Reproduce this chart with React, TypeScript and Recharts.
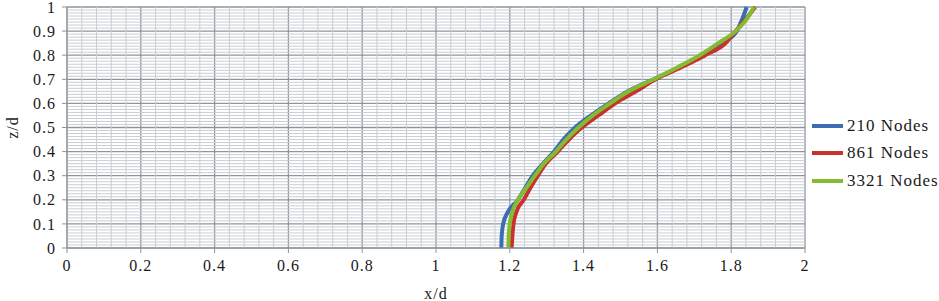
import { LineChart, Line, XAxis, YAxis, CartesianGrid, ReferenceLine } from 'recharts'

// z/d levels shared by the three profiles
const zLevels = [0, 0.05, 0.1, 0.15, 0.2, 0.25, 0.3, 0.35, 0.4, 0.45, 0.5, 0.55, 0.6, 0.65, 0.7, 0.75, 0.8, 0.85, 0.9, 0.95, 1.0]

// x/d at the levels above
const nodes210 = [1.177, 1.178, 1.182, 1.195, 1.222, 1.242, 1.262, 1.29, 1.32, 1.345, 1.377, 1.42, 1.468, 1.52, 1.59, 1.66, 1.725, 1.775, 1.815, 1.83, 1.842]
const nodes861 = [1.205, 1.207, 1.21, 1.218, 1.238, 1.256, 1.276, 1.298, 1.33, 1.36, 1.395, 1.44, 1.486, 1.542, 1.595, 1.665, 1.73, 1.785, 1.812, 1.84, 1.865]
const nodes3321 = [1.196, 1.197, 1.2, 1.207, 1.222, 1.245, 1.268, 1.292, 1.325, 1.353, 1.386, 1.425, 1.472, 1.522, 1.59, 1.655, 1.715, 1.765, 1.812, 1.842, 1.862]

const xTicks = [0, 0.2, 0.4, 0.6, 0.8, 1, 1.2, 1.4, 1.6, 1.8, 2]
const yTicks = [0, 0.1, 0.2, 0.3, 0.4, 0.5, 0.6, 0.7, 0.8, 0.9, 1]

// minor gridlines (skip the ones that sit on a major line)
const xMinor = Array.from({ length: 51 }, (_, i) => i).filter((i) => i % 5 !== 0).map((i) => +(i * 0.04).toFixed(3))
const yMinor = Array.from({ length: 81 }, (_, i) => i).filter((i) => i % 8 !== 0).map((i) => +(i * 0.0125).toFixed(4))

const series = [
  { name: '210 Nodes', values: nodes210, color: '#3c6db3' },
  { name: '861 Nodes', values: nodes861, color: '#c8322e' },
  { name: '3321 Nodes', values: nodes3321, color: '#84bb31' },
]

const FONT = 'Liberation Serif, Times New Roman, Times, DejaVu Serif, serif'
const tickStyle = { fill: '#1a1a1a', fontSize: 16, fontFamily: FONT, letterSpacing: 1 }

export default function App() {
  return (
    <div style={{ position: 'absolute', left: 0, top: 0, width: 939, height: 301, background: '#fff', fontFamily: FONT }}>
      <LineChart width={939} height={301} margin={{ top: 7, right: 134, left: 0, bottom: 0 }} style={{ fontFamily: FONT }}>
        <XAxis
          dataKey="x"
          type="number"
          domain={[0, 2]}
          ticks={xTicks}
          interval={0}
          height={53}
          tick={tickStyle}
          tickSize={5}
          tickMargin={7}
          axisLine={{ stroke: '#8d949e' }}
          tickLine={{ stroke: '#8d949e' }}
          label={{ value: 'x/d', position: 'insideBottom', offset: 2, style: { ...tickStyle } }}
        />
        <YAxis
          type="number"
          domain={[0, 1]}
          ticks={yTicks}
          interval={0}
          width={67}
          tick={tickStyle}
          tickSize={5}
          tickMargin={6}
          axisLine={{ stroke: '#8d949e' }}
          tickLine={{ stroke: '#8d949e' }}
          label={{ value: 'z/d', angle: -90, position: 'insideLeft', offset: 12, style: { ...tickStyle, textAnchor: 'middle' } }}
        />

        {xMinor.map((v) => (
          <ReferenceLine key={'vx' + v} x={v} stroke="#c9cdd4" strokeWidth={1} />
        ))}
        {yMinor.map((v) => (
          <ReferenceLine key={'hy' + v} y={v} stroke="#c9cdd4" strokeWidth={1} />
        ))}
        <CartesianGrid stroke="#8d949e" strokeWidth={1.3} />

        {series.map((s) => (
          <Line
            key={s.name}
            name={s.name}
            data={zLevels.map((z, i) => ({ x: s.values[i], z }))}
            dataKey="z"
            type="monotone"
            stroke={s.color}
            strokeWidth={4}
            dot={false}
            isAnimationActive={false}
          />
        ))}
      </LineChart>

      <div style={{ position: 'absolute', left: 812, top: 112, fontFamily: FONT, fontSize: 17, letterSpacing: 1, color: '#1a1a1a' }}>
        {series.map((s) => (
          <div key={s.name} style={{ display: 'flex', alignItems: 'center', height: 27.5 }}>
            <span style={{ display: 'inline-block', width: 31, height: 4, background: s.color, marginRight: 4 }} />
            <span>{s.name}</span>
          </div>
        ))}
      </div>
    </div>
  )
}
